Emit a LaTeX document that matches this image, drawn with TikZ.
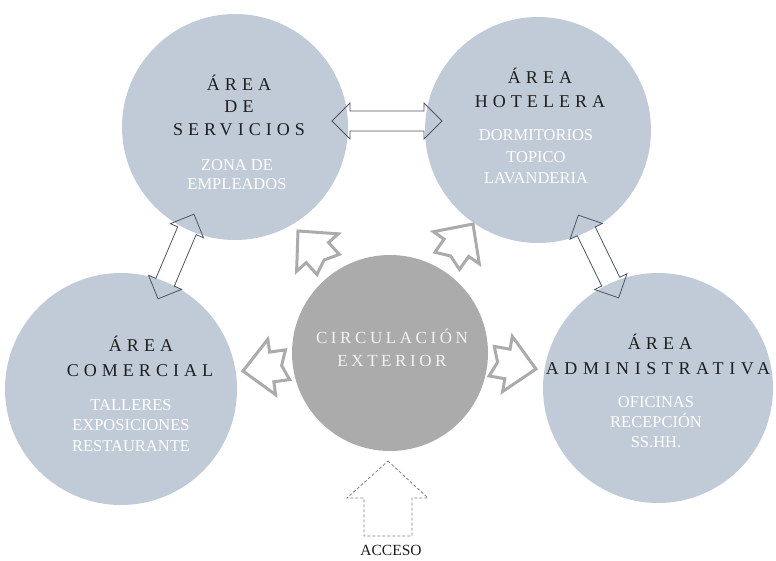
\documentclass[tikz,border=0pt]{standalone}
\usepackage{fontspec}
\setmainfont{Liberation Serif}
\newfontfamily\spaced[LetterSpace=28]{Liberation Serif}
\newfontfamily\spacedb[LetterSpace=31]{Liberation Serif}
\newfontfamily\spacedc[LetterSpace=21]{Liberation Serif}
\definecolor{areablue}{HTML}{C1CBD8}
\definecolor{circgray}{HTML}{ABABAB}
\definecolor{arrgray}{HTML}{ABABAB}
\definecolor{darkline}{HTML}{4D5560}
\definecolor{titlecol}{HTML}{1E1E1E}
\definecolor{centtext}{HTML}{F2F2F2}
\tikzset{
  areacircle/.style={circle, fill=areablue, draw=none, inner sep=0pt},
  centcircle/.style={circle, fill=circgray, draw=none, inner sep=0pt},
  titletxt/.style={anchor=base, inner sep=0pt, text=titlecol, font=\spaced\fontsize{18}{23}\selectfont},
  titletxtb/.style={anchor=base, inner sep=0pt, text=titlecol, font=\spacedb\fontsize{18}{23}\selectfont},
  subtxt/.style={anchor=base, inner sep=0pt, text=white, font=\fontsize{16.5}{20}\selectfont},
  centtxt/.style={anchor=base, inner sep=0pt, text=centtext, font=\spacedc\fontsize{17}{22}\selectfont},
  garrowstyle/.style={draw=arrgray, line width=3pt, line join=miter},
  darrowstyle/.style={draw=darkline, line width=0.8pt, line join=miter},
  garrow/.pic={\draw[garrowstyle] (0,0) -- (-29,28) -- (-29,15) -- (-45,15) -- (-39,0) -- (-45,-15) -- (-29,-15) -- (-29,-28) -- cycle;},
  darrow/.pic={\draw[darrowstyle] (-#1/2,0) -- (-#1/2+18,18) -- (-#1/2+18,10) -- (#1/2-18,10) -- (#1/2-18,18) -- (#1/2,0) -- (#1/2-18,-18) -- (#1/2-18,-10) -- (-#1/2+18,-10) -- (-#1/2+18,-18) -- cycle;}
}
\begin{document}
\begin{tikzpicture}[x=1pt,y=-1pt]
\useasboundingbox (0,0) rectangle (776,560);
% circles
\node[areacircle, minimum size=226pt] (serv) at (235,127) {};
\node[areacircle, minimum size=226pt] (hot) at (538,130) {};
\node[areacircle, minimum size=232pt] (com) at (121,389) {};
\node[areacircle, minimum size=230pt] (adm) at (658,388) {};
\node[centcircle, minimum size=196pt] (circ) at (390,353) {};
% double arrows
\pic at (387,121) {darrow=110};
\pic[rotate=67] at (176,256.5) {darrow=92};
\pic[rotate=-64] at (598.5,256.5) {darrow=92};
% gray arrows
\pic[rotate=132] at (298,231) {garrow};
\pic[rotate=55] at (473,224) {garrow};
\pic[rotate=188] at (243,371) {garrow};
\pic[rotate=-10] at (536,369) {garrow};
% acceso arrow
\coordinate (acctip) at (388,461);
\draw[densely dashed, draw=gray, line width=0.8pt] (acctip) -- (428,498) -- (412,498) -- (412,536) -- (364,536) -- (364,498) -- (347,498) -- cycle;
\node[anchor=base, inner sep=0pt, font=\fontsize{15.5}{18}\selectfont, text=titlecol] (acc) at (391,555) {ACCESO};
% servicios text
\node[titletxt] (s1) at (239,90) {ÁREA};
\node[titletxt] (s2) at (239,112) {DE};
\node[titletxt] (s3) at (239,135) {SERVICIOS};
\node[subtxt] (s4) at (237,170.5) {ZONA DE};
\node[subtxt] (s5) at (237,189.5) {EMPLEADOS};
% hotelera text
\node[titletxt] (h1) at (540,83) {ÁREA};
\node[titletxt] (h2) at (540,107) {HOTELERA};
\node[subtxt] (h3) at (536,140.5) {DORMITORIOS};
\node[subtxt] (h4) at (536,162.5) {TOPICO};
\node[subtxt] (h5) at (536,183.5) {LAVANDERIA};
% comercial text
\node[titletxt] (c1) at (141,351) {ÁREA};
\node[titletxt] (c2) at (140,376) {COMERCIAL};
\node[subtxt] (c3) at (131,410.5) {TALLERES};
\node[subtxt] (c4) at (131,430.5) {EXPOSICIONES};
\node[subtxt] (c5) at (131,451.5) {RESTAURANTE};
% administrativa text
\node[titletxt] (a1) at (660,349.5) {ÁREA};
\node[titletxtb] (a2) at (658,374.5) {ADMINISTRATIVA};
\node[subtxt] (a3) at (656,407) {OFICINAS};
\node[subtxt] (a4) at (656,427.5) {RECEPCIÓN};
\node[subtxt] (a5) at (656,447.5) {SS.HH.};
% centre text
\node[centtxt] (x1) at (392,343.5) {CIRCULACIÓN};
\node[centtxt] (x2) at (392,366.5) {EXTERIOR};
\end{tikzpicture}
\end{document}
